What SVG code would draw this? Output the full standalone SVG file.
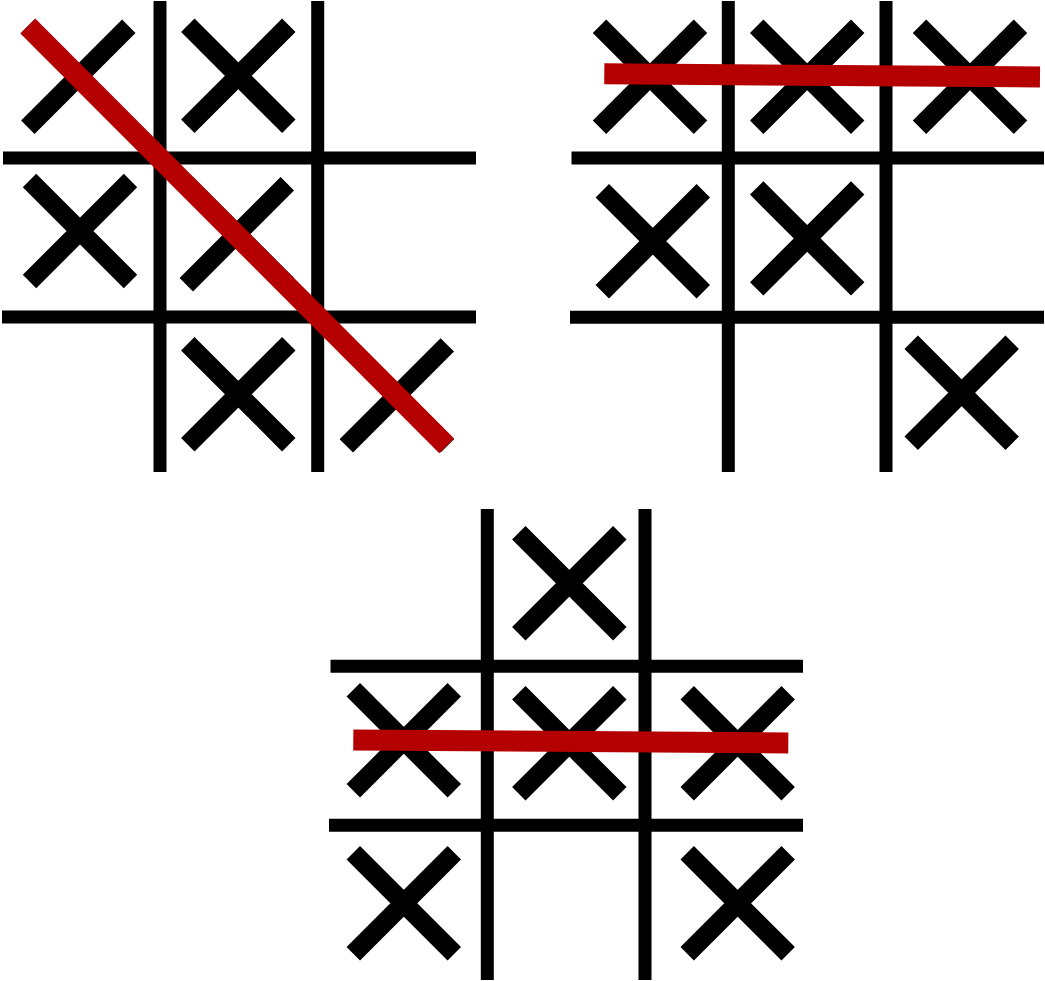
<svg xmlns="http://www.w3.org/2000/svg" xmlns:xlink="http://www.w3.org/1999/xlink" width="1045" height="981" viewBox="0 0 1045 981">
  <style>
    .grid { stroke: #000; stroke-width: 13; fill: none; }
    .win { stroke: #b40000; stroke-width: 21; fill: none; }
  </style>
  <defs>
    <path id="x" d="M-50.5,-50.5 L50.5,50.5 M50.5,-50.5 L-50.5,50.5" stroke="#000" stroke-width="19" fill="none"/>
  </defs>
  <rect width="1045" height="981" fill="#fff"/>

  <g id="board1">
    <g class="grid">
      <line x1="160" y1="1" x2="160" y2="472"/>
      <line x1="317.7" y1="1" x2="317.7" y2="472"/>
      <line x1="3" y1="158" x2="476" y2="158"/>
      <line x1="2" y1="317" x2="476" y2="317"/>
    </g>
    <use xlink:href="#x" href="#x" transform="translate(78.3,76.8)"/>
    <use xlink:href="#x" href="#x" transform="translate(238.3,75.8)"/>
    <use xlink:href="#x" href="#x" transform="translate(80,231)"/>
    <use xlink:href="#x" href="#x" transform="translate(236.8,234.2)"/>
    <use xlink:href="#x" href="#x" transform="translate(238.3,394.2)"/>
    <use xlink:href="#x" href="#x" transform="translate(396.8,395.4)"/>
    <line class="win" x1="27.8" y1="26" x2="446.7" y2="445.8"/>
  </g>

  <g id="board2">
    <g class="grid">
      <line x1="728.3" y1="1" x2="728.3" y2="472"/>
      <line x1="886" y1="1" x2="886" y2="472"/>
      <line x1="571.5" y1="158" x2="1044" y2="158"/>
      <line x1="570" y1="317.2" x2="1044" y2="317.2"/>
    </g>
    <use xlink:href="#x" href="#x" transform="translate(650,76.8)"/>
    <use xlink:href="#x" href="#x" transform="translate(807.2,76.8)"/>
    <use xlink:href="#x" href="#x" transform="translate(970,76.8)"/>
    <use xlink:href="#x" href="#x" transform="translate(652.8,241.2)"/>
    <use xlink:href="#x" href="#x" transform="translate(807.2,238.4)"/>
    <use xlink:href="#x" href="#x" transform="translate(961.7,392.8)"/>
    <line class="win" x1="604.3" y1="73.8" x2="1040" y2="77"/>
  </g>

  <g id="board3">
    <g class="grid">
      <line x1="487.3" y1="509" x2="487.3" y2="980"/>
      <line x1="645" y1="509" x2="645" y2="980"/>
      <line x1="330.5" y1="666.2" x2="803" y2="666.2"/>
      <line x1="329" y1="825.3" x2="803" y2="825.3"/>
    </g>
    <use xlink:href="#x" href="#x" transform="translate(569.3,583.3)"/>
    <use xlink:href="#x" href="#x" transform="translate(403.8,740.3)"/>
    <use xlink:href="#x" href="#x" transform="translate(569.3,743.3)"/>
    <use xlink:href="#x" href="#x" transform="translate(737.7,743.3)"/>
    <use xlink:href="#x" href="#x" transform="translate(403.8,903.3)"/>
    <use xlink:href="#x" href="#x" transform="translate(737.7,903.3)"/>
    <line class="win" x1="353.3" y1="740" x2="788.3" y2="743"/>
  </g>
</svg>
